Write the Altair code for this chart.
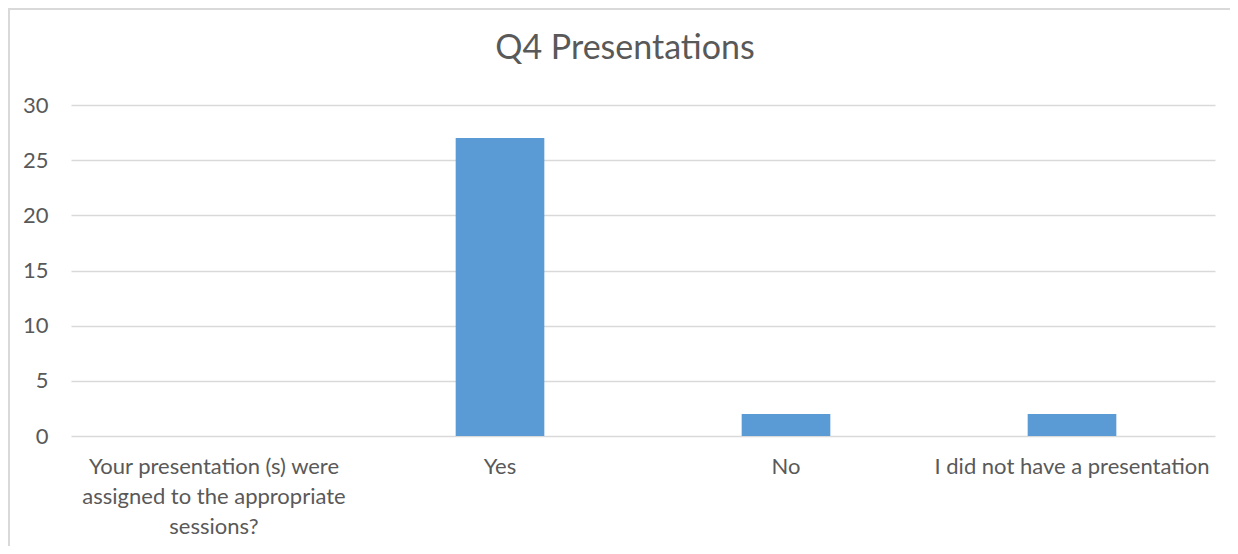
import altair as alt
import pandas as pd

categories = [
    "Your presentation (s) were|assigned to the appropriate|sessions?",
    "Yes",
    "No",
    "I did not have a presentation",
]
values = [0, 27, 2, 2]
y_ticks = [0, 5, 10, 15, 20, 25, 30]

df = pd.DataFrame({"category": categories, "count": values})

TEXT = "#595959"
GRID = "#D9D9D9"
FONT = "Lato"

bars = alt.Chart(df).mark_bar(color="#5B9BD5", width={"band": 0.31}).encode(
    x=alt.X(
        "category:N",
        sort=categories,
        title=None,
        scale=alt.Scale(paddingInner=0, paddingOuter=0),
        axis=alt.Axis(
            labelAngle=0,
            labelExpr="split(datum.label, '|')",
            labelFontSize=22,
            labelColor=TEXT,
            labelFont=FONT,
            labelLineHeight=30,
            labelPadding=20,
            ticks=False,
            domain=False,
            labelLimit=400,
        ),
    ),
    y=alt.Y(
        "count:Q",
        title=None,
        scale=alt.Scale(domain=[0, 30]),
        axis=alt.Axis(
            values=y_ticks,
            labelFontSize=22,
            labelColor=TEXT,
            labelFont=FONT,
            labelPadding=23,
            ticks=False,
            domain=False,
            grid=True,
            gridColor=GRID,
            gridWidth=1.5,
        ),
    ),
)

border = alt.Chart(df).mark_rect(
    fill=None, stroke=GRID, strokeWidth=2, clip=False
).encode(
    x=alt.value(-62), x2=alt.value(1200), y=alt.value(-96), y2=alt.value(560)
)

chart = alt.layer(border, bars).properties(
    width=1144,
    height=331,
    padding={"left": 63, "top": 97, "right": 15, "bottom": 110},
    autosize=alt.AutoSizeParams(type="none"),
    title=alt.Title(
        "Q4 Presentations",
        fontSize=34,
        font=FONT,
        fontWeight="normal",
        color=TEXT,
        anchor="middle",
        dx=-18,
        offset=-58,
    ),
).configure_view(stroke=None)

chart.save("out.html", embed_options={"renderer": "svg", "actions": False})
